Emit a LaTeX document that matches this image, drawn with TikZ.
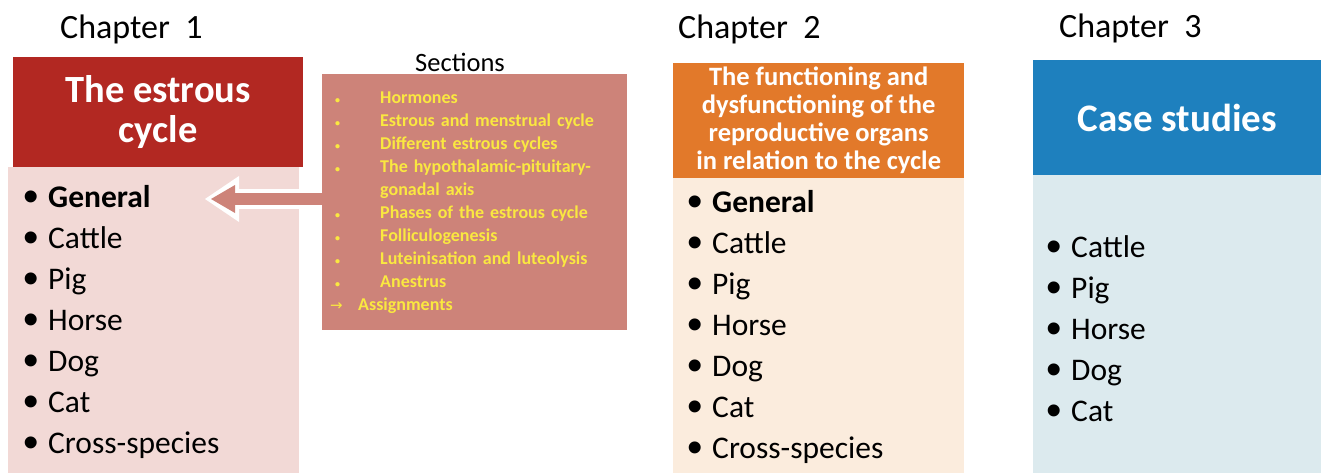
\documentclass[tikz,border=0pt]{standalone}
\usepackage{fontspec}
\setmainfont{Carlito}
\newfontfamily\arrowfont{DejaVu Sans}
\newfontfamily\bulletfont{Liberation Sans}
\usepackage{xcolor}
\usetikzlibrary{arrows.meta,positioning}

\definecolor{redhead}{RGB}{178,40,34}
\definecolor{redbody}{RGB}{242,217,214}
\definecolor{orangehead}{RGB}{226,121,42}
\definecolor{orangebody}{RGB}{251,236,221}
\definecolor{bluehead}{RGB}{30,128,190}
\definecolor{bluebody}{RGB}{220,234,238}
\definecolor{secfill}{RGB}{205,131,121}
\definecolor{secyellow}{RGB}{250,232,64}

\newcommand{\itm}[1]{\makebox[25pt][l]{\raisebox{-4pt}{\bulletfont\mdseries\fontsize{44}{44}\selectfont •}}#1}
\newcommand{\sitm}[1]{\makebox[50pt][l]{\hspace{5pt}{\fontsize{10}{10}\selectfont\textbullet}}#1}

\begin{document}
\begin{tikzpicture}[
  x=1pt, y=-1pt,
  every node/.style={inner sep=0pt},
  chapter/.style={anchor=base west, font=\fontsize{34}{34}\selectfont},
  head/.style={anchor=north west, text=white, align=center},
  body/.style={anchor=north west},
  list/.style={anchor=base west, align=left, font=\fontsize{31.5}{41}\selectfont},
  sections/.style={anchor=north west, fill=secfill, text=secyellow, align=left,
    text width=289pt, inner xsep=8pt, minimum width=305pt, minimum height=256pt,
    font=\fontsize{18}{23}\selectfont\bfseries}
]
  \useasboundingbox (0,0) rectangle (1321,473);

  % chapter 1
  \node[chapter] (ch1) at (60,39) {Chapter~~1};
  \node[body, fill=redbody, minimum width=291pt, minimum height=306pt] (body1) at (8,167) {};
  \node[head, fill=redhead, minimum width=290pt, minimum height=110pt,
    font=\fontsize{38.5}{40}\selectfont\bfseries] (head1) at (13,57) {The estrous\\cycle};
  \node[list] (list1) at (23,453) {\itm{\textbf{General}}\\\itm{Cattle}\\\itm{Pig}\\\itm{Horse}\\\itm{Dog}\\\itm{Cat}\\\itm{Cross-species}};

  % sections
  \node[anchor=base, font=\fontsize{26.5}{26.5}\selectfont] (seclabel) at (460,72) {Sections};
  \node[sections] (secs) at (322,74) {\sitm{Hormones}\\\sitm{Estrous and menstrual cycle}\\\sitm{Different estrous cycles}\\\sitm{The hypothalamic-pituitary-}\\\hspace*{50pt}gonadal axis\\\sitm{Phases of the estrous cycle}\\\sitm{Folliculogenesis}\\\sitm{Luteinisation and luteolysis}\\\sitm{Anestrus}\\\makebox[28pt][l]{\arrowfont\mdseries\fontsize{15}{15}\selectfont →}Assignments};

  \coordinate (tip) at (205,199);
  \draw[white, line width=20pt, -{Triangle[length=34pt,width=46pt,line width=0pt]}] (secs.west |- tip) -- (tip);
  \draw[secfill, line width=12pt, shorten >=6pt, -{Triangle[length=24pt,width=28pt,line width=0pt]}] (secs.west |- tip) -- (tip);

  % chapter 2
  \node[chapter] (ch2) at (678,39) {Chapter~~2};
  \node[body, fill=orangebody, minimum width=291pt, minimum height=295pt] (body2) at (673,178) {};
  \node[head, fill=orangehead, minimum width=291pt, minimum height=115pt,
    font=\fontsize{26.5}{28}\selectfont\bfseries] (head2) at (673,63) {The functioning and\\dysfunctioning of the\\reproductive organs\\in relation to the cycle};
  \node[list] (list2) at (687,458) {\itm{\textbf{General}}\\\itm{Cattle}\\\itm{Pig}\\\itm{Horse}\\\itm{Dog}\\\itm{Cat}\\\itm{Cross-species}};

  % chapter 3
  \node[chapter] (ch3) at (1059,38) {Chapter~~3};
  \node[body, fill=bluebody, minimum width=288pt, minimum height=298pt] (body3) at (1033,175) {};
  \node[head, fill=bluehead, minimum width=288pt, minimum height=115pt,
    font=\fontsize{39}{40}\selectfont\bfseries] (head3) at (1033,60) {Case studies};
  \node[list] (list3) at (1046,421) {\itm{Cattle}\\\itm{Pig}\\\itm{Horse}\\\itm{Dog}\\\itm{Cat}};
\end{tikzpicture}
\end{document}
